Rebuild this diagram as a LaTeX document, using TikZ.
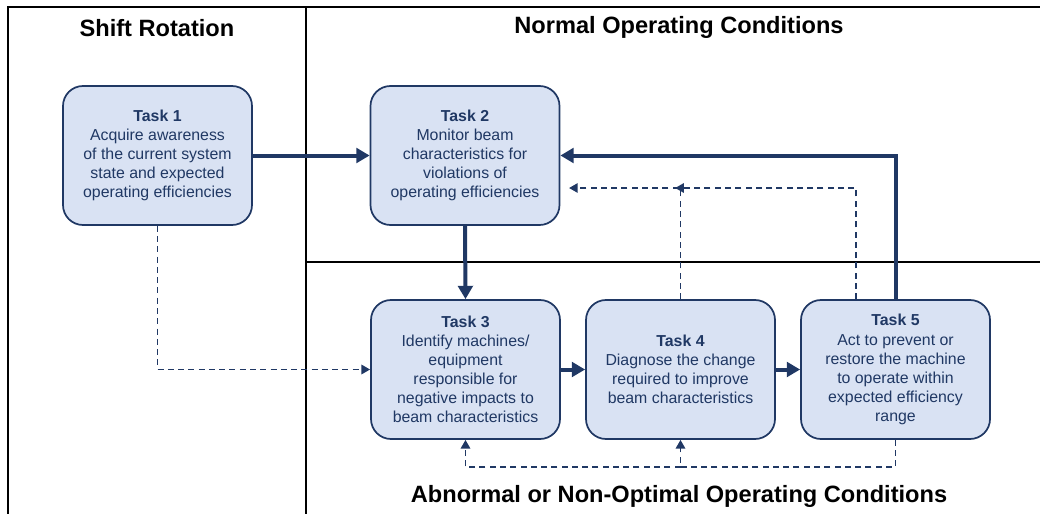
\documentclass[tikz,border=0pt]{standalone}
\usepackage{fontspec}
\setmainfont{Liberation Sans}
\usetikzlibrary{arrows.meta}
\definecolor{navy}{HTML}{203864}
\definecolor{boxfill}{HTML}{D9E2F3}
\begin{document}
\begin{tikzpicture}[x=0.75pt,y=-0.75pt,
  task/.style={draw=navy, line width=1.3pt, fill=boxfill, rounded corners=15pt,
    minimum width=141.75pt, minimum height=104.25pt, align=center, text=navy,
    font=\fontsize{11.9}{14.3}\selectfont, inner sep=2pt},
  thickarrow/.style={draw=navy, line width=3pt, -{Triangle[length=10pt,width=11pt]}},
  dsh/.style={draw=navy, line width=1.35pt, dash pattern=on 4.5pt off 3.2pt,
    -{Triangle[length=6.5pt,width=7pt]}},
  frame/.style={draw=black, line width=1.3pt},
  title/.style={font=\fontsize{17.7}{20}\selectfont\bfseries, text=black}]
\useasboundingbox (0,0) rectangle (1040,514);
% frame
\draw[frame] (1040,7) -- (8,7) -- (8,514);
\draw[frame] (306,7) -- (306,514);
\draw[frame] (306,262) -- (1040,262);
% titles
\node[title] (tshift) at (157,28) {Shift Rotation};
\node[title] (tnormal) at (679,27) {Normal Operating Conditions};
\node[title] (tabnormal) at (679,496) {Abnormal or Non-Optimal Operating Conditions};
% tasks
\node[task] (t1) at (157.5,155.5) {\textbf{Task 1}\\Acquire awareness\\of the current system\\state and expected\\operating efficiencies};
\node[task] (t2) at (465,155.5) {\textbf{Task 2}\\Monitor beam\\characteristics for\\violations of\\operating efficiencies};
\node[task] (t3) at (465.5,369.5) {\textbf{Task 3}\\Identify machines/\\equipment\\responsible for\\negative impacts to\\beam characteristics};
\node[task] (t4) at (680.5,369.5) {\textbf{Task 4}\\Diagnose the change\\required to improve\\beam characteristics};
\node[task] (t5) at (895.5,369.5) {\textbf{Task 5}\\Act to prevent or\\restore the machine\\to operate within\\expected efficiency\\range};
% junction coordinates
\coordinate (j4) at (680.5,188);
\coordinate (j5) at (856,188);
\coordinate (b5) at (895.5,467);
\coordinate (b4) at (680.5,467);
\coordinate (b3) at (465.5,467);
% thick connectors
\draw[thickarrow] (t1.east) -- (t2.west);
\draw[thickarrow] (t2.south) -- (t3.north);
\draw[thickarrow] (t3.east) -- (t4.west);
\draw[thickarrow] (t4.east) -- (t5.west);
\draw[thickarrow] (t5.north) |- (t2.east);
% dashed connectors
\draw[dsh] (t1.south) |- (t3.west);
\draw[dsh, shorten >=6.5pt] (t4.north) -- (j4) -- (t2.east |- j4);
\draw[dsh, shorten >=-4pt] (t5.north -| j5) -- (j5) -- (j4);
\draw[dsh] (t5.south) -- (b5) -- (b4) -- (t4.south);
\draw[dsh] (b4) -- (b3) -- (t3.south);
\end{tikzpicture}
\end{document}
